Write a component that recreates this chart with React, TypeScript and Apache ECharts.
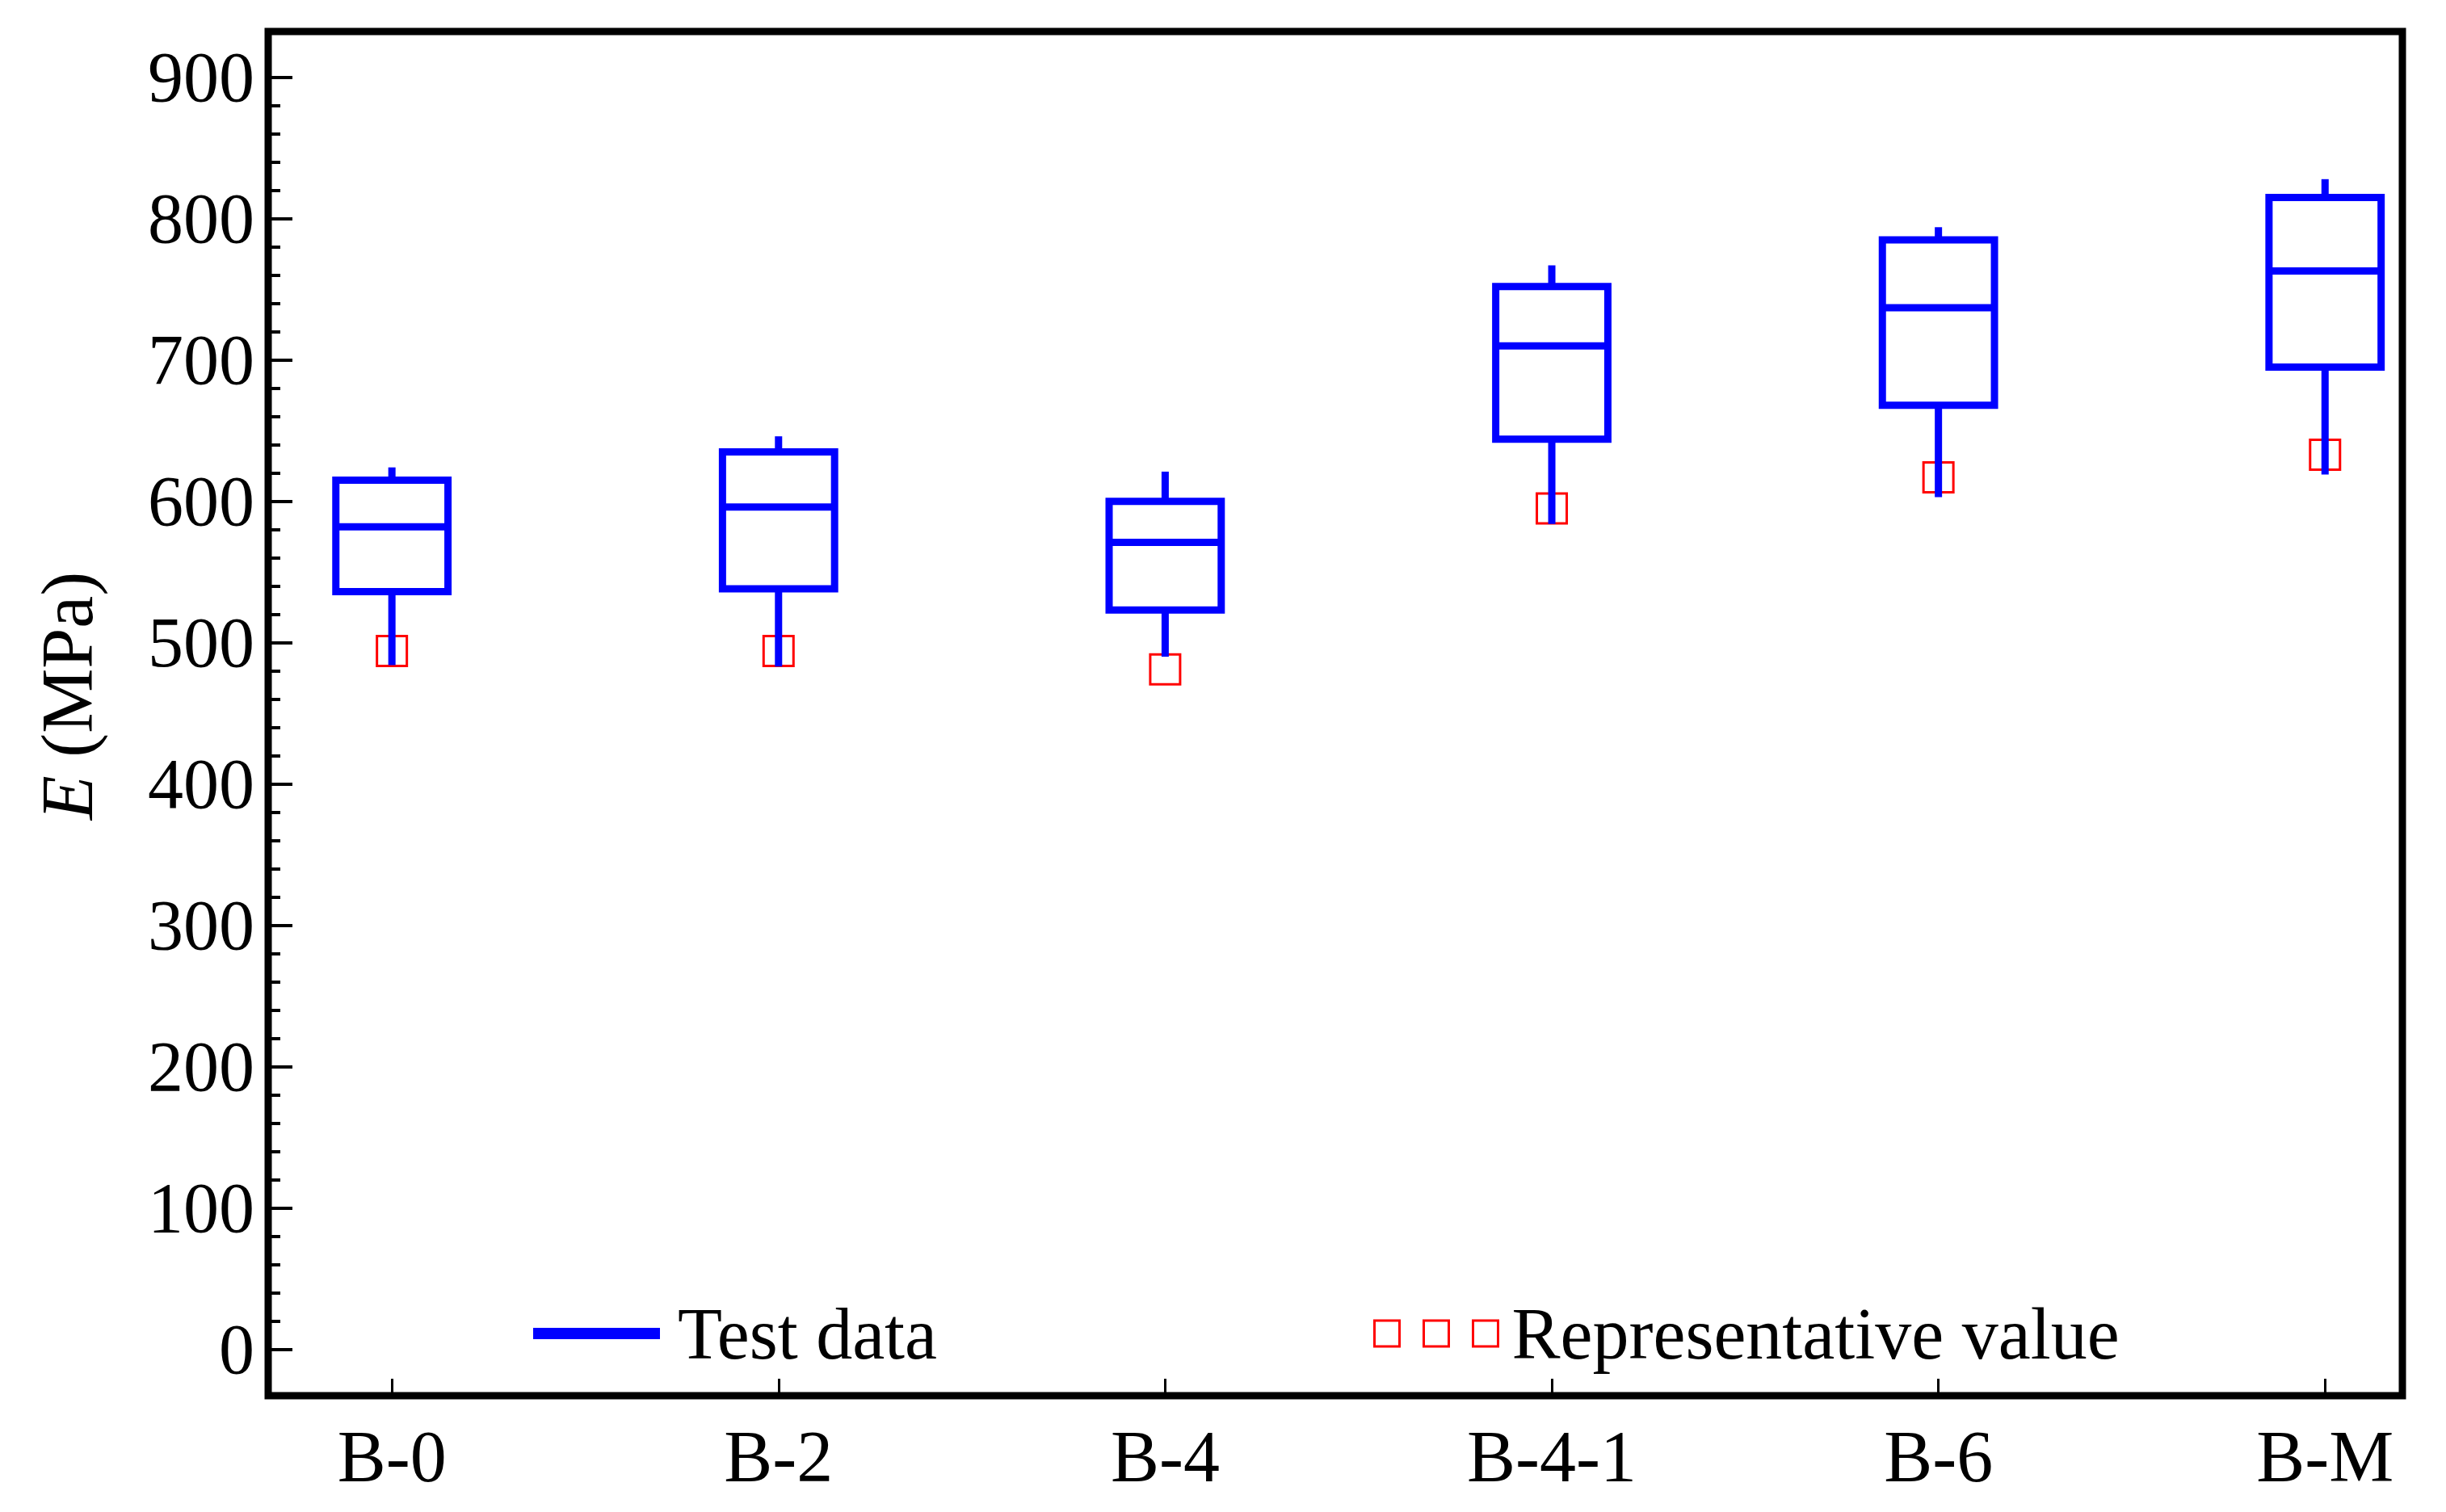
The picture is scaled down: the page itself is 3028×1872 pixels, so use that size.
import React, { useEffect, useRef } from "react";
import * as echarts from "echarts";

const categories = ["B-0", "B-2", "B-4", "B-4-1", "B-6", "B-M"];
const minValues = [484, 483, 490, 584, 603, 619];
const q1Values = [536, 538, 523, 644, 668, 695];
const medianValues = [582, 596, 571, 710, 737, 763];
const q3Values = [615, 635, 600, 752, 785, 815];
const maxValues = [624, 646, 621, 767, 794, 828];
const representativeValues = [494, 494, 481, 595, 617, 633];

const yMajorTicks = [0, 100, 200, 300, 400, 500, 600, 700, 800, 900];
const yMinorTicks = [
  20, 40, 60, 80, 120, 140, 160, 180, 220, 240, 260, 280, 320, 340, 360, 380,
  420, 440, 460, 480, 520, 540, 560, 580, 620, 640, 660, 680, 720, 740, 760, 780,
  820, 840, 860, 880,
];
const xPositions = [1, 2, 3, 4, 5, 6];

const BLUE = "#0000FF";
const RED = "#FF0000";
const FONT = "'Liberation Serif', 'Times New Roman', serif";
const BOX_WIDTH = 0.29;

export default function App() {
  const ref = useRef<HTMLDivElement>(null);

  useEffect(() => {
    if (!ref.current) return;
    const chart = echarts.init(ref.current, null, { renderer: "svg" });

    const boxData = categories.map((_, i) => [
      xPositions[i],
      minValues[i],
      q1Values[i],
      medianValues[i],
      q3Values[i],
      maxValues[i],
    ]);
    const repData = categories.map((_, i) => [xPositions[i], representativeValues[i]]);

    const yBase = {
      type: "value",
      min: -33,
      max: 932.5,
      position: "left",
      axisLine: { show: false, onZero: false },
      splitLine: { show: false },
    };

    const option: any = {
      animation: false,
      backgroundColor: "#ffffff",
      textStyle: { fontFamily: FONT },
      grid: {
        left: 332,
        right: 54,
        top: 39,
        bottom: 144,
        show: true,
        borderColor: "#000000",
        borderWidth: 9,
        backgroundColor: "#ffffff",
      },
      xAxis: {
        type: "value",
        min: 0.68,
        max: 6.2,
        position: "bottom",
        axisLine: { show: false, onZero: false },
        splitLine: { show: false },
        axisTick: {
          show: true,
          inside: true,
          length: 21,
          customValues: xPositions,
          lineStyle: { color: "#000000", width: 3 },
        },
        axisLabel: {
          show: true,
          customValues: xPositions,
          margin: 30,
          fontSize: 90,
          fontFamily: FONT,
          color: "#000000",
          formatter: (v: number) => categories[Math.round(v) - 1] ?? "",
        },
      },
      yAxis: [
        {
          ...yBase,
          name: "{i|E} (MPa)",
          nameLocation: "middle",
          nameRotate: 90,
          nameGap: 204,
          nameTextStyle: {
            fontSize: 90,
            fontFamily: FONT,
            color: "#000000",
            padding: [0, 0, 0, 44],
            rich: {
              i: { fontSize: 90, fontFamily: FONT, fontStyle: "italic", color: "#000000" },
            },
          },
          axisTick: {
            show: true,
            inside: true,
            length: 30,
            customValues: yMajorTicks,
            lineStyle: { color: "#000000", width: 4 },
          },
          axisLabel: {
            show: true,
            customValues: yMajorTicks,
            margin: 17,
            fontSize: 88,
            fontFamily: FONT,
            color: "#000000",
          },
        },
        {
          ...yBase,
          axisTick: {
            show: true,
            inside: true,
            length: 15,
            customValues: yMinorTicks,
            lineStyle: { color: "#000000", width: 4 },
          },
          axisLabel: { show: false },
        },
      ],
      legend: [
        {
          left: 660,
          top: 1601,
          padding: 0,
          itemWidth: 157,
          itemHeight: 14,
          itemGap: 0,
          selectedMode: false,
          textStyle: { fontSize: 90, fontFamily: FONT, color: "#000000", lineHeight: 90, padding: [10, 0, 0, 17] },
          data: [{ name: "Test data", icon: "rect", itemStyle: { color: BLUE, borderWidth: 0 } }],
        },
        {
          left: 1700,
          top: 1601,
          padding: 0,
          itemWidth: 153,
          itemHeight: 32,
          itemGap: 0,
          selectedMode: false,
          textStyle: { fontSize: 90, fontFamily: FONT, color: "#000000", lineHeight: 90, padding: [10, 0, 0, 12] },
          data: [
            {
              name: "Representative value",
              icon: "path://M0,0H31V32H0Z M61,0H92V32H61Z M122,0H153V32H122Z",
              itemStyle: { color: "rgba(0,0,0,0)", borderColor: RED, borderWidth: 3 },
            },
          ],
        },
      ],
      series: [
        {
          name: "Representative value",
          type: "scatter",
          z: 1,
          symbol: "rect",
          symbolSize: 37,
          itemStyle: { color: "rgba(0,0,0,0)", borderColor: RED, borderWidth: 3, opacity: 1 },
          data: repData,
        },
        {
          name: "Test data",
          type: "custom",
          z: 2,
          itemStyle: { color: BLUE },
          encode: { x: 0, y: [1, 2, 3, 4, 5] },
          data: boxData,
          renderItem: (params: any, api: any) => {
            const x = api.value(0);
            const pMin = api.coord([x, api.value(1)]);
            const pQ1 = api.coord([x, api.value(2)]);
            const pMed = api.coord([x, api.value(3)]);
            const pQ3 = api.coord([x, api.value(4)]);
            const pMax = api.coord([x, api.value(5)]);
            const half = api.size([BOX_WIDTH, 0])[0] / 2;
            const cx = pMed[0];
            const lineStyle = { stroke: BLUE, lineWidth: 9, fill: "none" };
            return {
              type: "group",
              children: [
                {
                  type: "line",
                  shape: { x1: cx, y1: pQ1[1], x2: cx, y2: pMin[1] },
                  style: lineStyle,
                },
                {
                  type: "line",
                  shape: { x1: cx, y1: pQ3[1], x2: cx, y2: pMax[1] },
                  style: lineStyle,
                },
                {
                  type: "rect",
                  shape: { x: cx - half, y: pQ3[1], width: half * 2, height: pQ1[1] - pQ3[1] },
                  style: { ...lineStyle, lineJoin: "miter" },
                },
                {
                  type: "line",
                  shape: { x1: cx - half, y1: pMed[1], x2: cx + half, y2: pMed[1] },
                  style: lineStyle,
                },
              ],
            };
          },
        },
      ],
    };

    chart.setOption(option);
    return () => chart.dispose();
  }, []);

  return (
    <div
      ref={ref}
      style={{ position: "fixed", left: 0, top: 0, width: 3028, height: 1872, background: "#ffffff" }}
    />
  );
}
